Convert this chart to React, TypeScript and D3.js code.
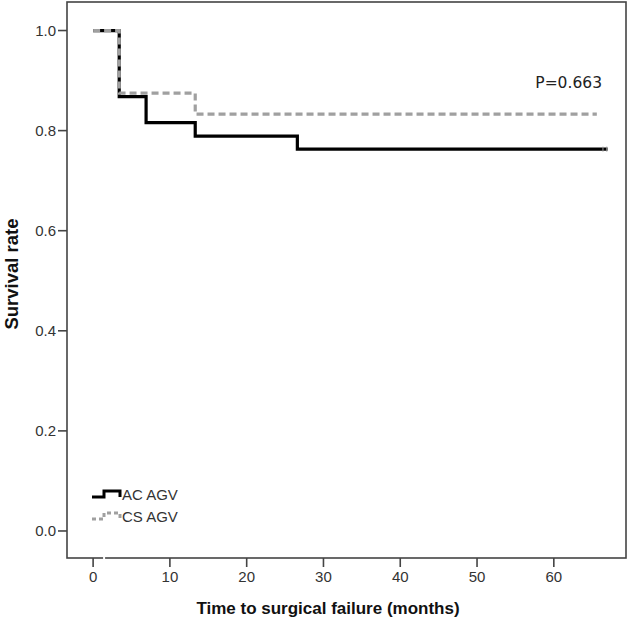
import { useEffect, useRef } from 'react'
import * as d3 from 'd3'

const acTimes = [0, 3.4, 6.9, 13.3, 26.6, 67]
const acSurv = [1, 0.868, 0.816, 0.789, 0.763, 0.763]
const csTimes = [0, 3.4, 13.3, 65.6]
const csSurv = [1, 0.875, 0.833, 0.833]
const acCensor = [66.4, 66.9]
const xTicks = [0, 10, 20, 30, 40, 50, 60]
const yTicks = [0, 0.2, 0.4, 0.6, 0.8, 1.0]
const seriesNames = ['AC AGV', 'CS AGV']

export default function App() {
  const ref = useRef<SVGSVGElement>(null)

  useEffect(() => {
    const svg = d3.select(ref.current)
    svg.selectAll('*').remove()
    const width = 629
    const height = 626
    const box = { left: 67, right: 626, top: 2, bottom: 558 }

    const x = d3.scaleLinear().domain([-3.4, 69.4]).range([box.left, box.right])
    const y = d3.scaleLinear().domain([-0.054, 1.057]).range([box.bottom, box.top])

    svg.append('rect').attr('width', width).attr('height', height).attr('fill', '#fff')

    // frame
    svg
      .append('rect')
      .attr('x', box.left)
      .attr('y', box.top)
      .attr('width', box.right - box.left)
      .attr('height', box.bottom - box.top)
      .attr('fill', 'none')
      .attr('stroke', '#444')
      .attr('stroke-width', 1.6)

    // little break in the x axis line, as in the original
    svg.append('rect').attr('x', x(1.3)).attr('y', box.bottom - 2).attr('width', 2).attr('height', 4).attr('fill', '#fff')

    // y axis
    const ya = svg.append('g').attr('transform', `translate(${box.left},0)`)
    ya.selectAll('line')
      .data(yTicks)
      .enter()
      .append('line')
      .attr('x1', -9)
      .attr('x2', 0)
      .attr('y1', d => y(d))
      .attr('y2', d => y(d))
      .attr('stroke', '#444')
      .attr('stroke-width', 1.6)
    ya.selectAll('text')
      .data(yTicks)
      .enter()
      .append('text')
      .attr('x', -11)
      .attr('y', d => y(d))
      .attr('dy', '0.35em')
      .attr('text-anchor', 'end')
      .attr('font-family', 'Arial, "Liberation Sans", sans-serif')
      .attr('font-size', 15)
      .attr('fill', '#333')
      .text(d => d3.format('.1f')(d))

    // x axis
    const xa = svg.append('g').attr('transform', `translate(0,${box.bottom})`)
    xa.selectAll('line')
      .data(xTicks)
      .enter()
      .append('line')
      .attr('x1', d => x(d))
      .attr('x2', d => x(d))
      .attr('y1', 0)
      .attr('y2', 9)
      .attr('stroke', '#444')
      .attr('stroke-width', 1.6)
    xa.selectAll('text')
      .data(xTicks)
      .enter()
      .append('text')
      .attr('x', d => x(d))
      .attr('y', 24)
      .attr('text-anchor', 'middle')
      .attr('font-family', 'Arial, "Liberation Sans", sans-serif')
      .attr('font-size', 15)
      .attr('fill', '#333')
      .text(d => d)

    // axis titles
    svg
      .append('text')
      .attr('x', 328)
      .attr('y', 614)
      .attr('text-anchor', 'middle')
      .attr('font-family', 'Arial, "Liberation Sans", sans-serif')
      .attr('font-weight', 'bold')
      .attr('font-size', 17)
      .attr('fill', '#111')
      .text('Time to surgical failure (months)')
    svg
      .append('text')
      .attr('transform', 'translate(18,274) rotate(-90)')
      .attr('text-anchor', 'middle')
      .attr('font-family', 'Arial, "Liberation Sans", sans-serif')
      .attr('font-weight', 'bold')
      .attr('font-size', 18.5)
      .attr('fill', '#111')
      .text('Survival rate')

    const line = d3
      .line<[number, number]>()
      .x(d => x(d[0]))
      .y(d => y(d[1]))
      .curve(d3.curveStepAfter)

    const acPts = acTimes.map((t, i) => [t, acSurv[i]] as [number, number])
    const csPts = csTimes.map((t, i) => [t, csSurv[i]] as [number, number])

    svg.append('path').attr('d', line(acPts)).attr('fill', 'none').attr('stroke', '#000').attr('stroke-width', 3.2)

    // censor marks on AC AGV end
    svg
      .selectAll('line.censor')
      .data(acCensor)
      .enter()
      .append('line')
      .attr('class', 'censor')
      .attr('x1', d => x(d))
      .attr('x2', d => x(d))
      .attr('y1', y(acSurv[acSurv.length - 1]) - 2.5)
      .attr('y2', y(acSurv[acSurv.length - 1]) + 2.5)
      .attr('stroke', '#999')
      .attr('stroke-width', 1)

    svg
      .append('path')
      .attr('d', line(csPts))
      .attr('fill', 'none')
      .attr('stroke', '#a0a0a0')
      .attr('stroke-width', 3.2)
      .attr('stroke-dasharray', '7,4')

    svg
      .append('text')
      .attr('x', 602)
      .attr('y', 88)
      .attr('text-anchor', 'end')
      .attr('font-family', '"DejaVu Sans", sans-serif')
      .attr('font-size', 15.5)
      .attr('fill', '#222')
      .text('P=0.663')

    // legend
    const legend = svg.append('g').attr('transform', 'translate(92,494)')
    const legendStyles = [
      { stroke: '#000', dash: null },
      { stroke: '#a0a0a0', dash: '4,3' }
    ]
    seriesNames.forEach((name, i) => {
      const g = legend.append('g').attr('transform', `translate(0,${i * 22})`)
      g.append('path')
        .attr('d', 'M0,3 H12 V-3 H28 V3')
        .attr('fill', 'none')
        .attr('stroke', legendStyles[i].stroke)
        .attr('stroke-width', 3)
        .attr('stroke-dasharray', legendStyles[i].dash)
      g.append('text')
        .attr('x', 30)
        .attr('y', 5.5)
        .attr('font-family', 'Arial, "Liberation Sans", sans-serif')
        .attr('font-size', 15)
        .attr('fill', '#333')
        .text(name)
    })
  }, [])

  return <svg ref={ref} width={629} height={626} style={{ position: 'absolute', left: 0, top: 0 }} />
}
